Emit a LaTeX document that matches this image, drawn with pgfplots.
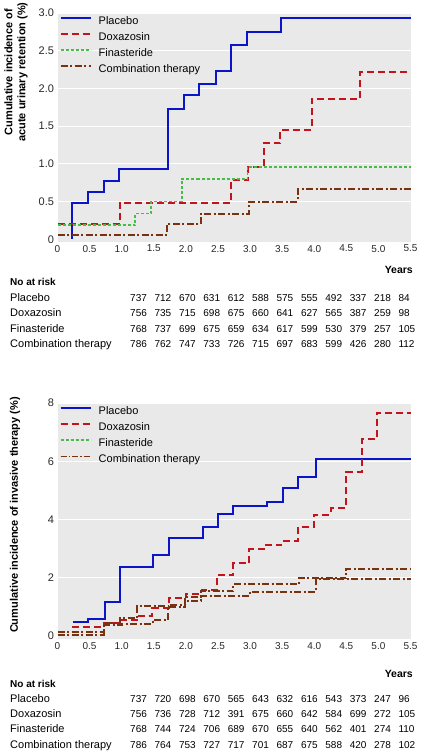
\documentclass[border=0pt]{standalone}
\usepackage{fontspec}
\setmainfont{Liberation Sans}
\usepackage{pgfplots}
\pgfplotsset{compat=1.18}
\definecolor{bg}{RGB}{233,233,233}
\definecolor{cplac}{RGB}{10,20,200}
\definecolor{cdox}{RGB}{195,20,30}
\definecolor{cfin}{RGB}{70,190,70}
\definecolor{ccomb}{RGB}{120,50,15}
\definecolor{ticktext}{RGB}{40,40,40}
\pgfplotsset{
 kmaxis/.style={
  scale only axis, width=353pt, xmin=0, xmax=5.5,
  axis line style={draw=none}, major tick length=0pt,
  axis background/.style={fill=bg},
  ymajorgrids, grid style={white, line width=1pt},
  xtick={0,0.5,1,1.5,2,2.5,3,3.5,4,4.5,5,5.5},
  xticklabels={0,0.5,1.0,1.5,2.0,2.5,3.0,3.5,4.0,4.5,5.0,5.5},
  x tick label style={font=\fontsize{10}{12}\selectfont, text=ticktext},
  y tick label style={font=\fontsize{11}{13}\selectfont, text=ticktext},
  /pgf/number format/assume math mode=true,
  legend style={at={(0,1)}, anchor=north west, draw=none, fill=none,
    font=\fontsize{11}{13}\selectfont, inner xsep=2pt, inner ysep=3pt, row sep=5pt,
    nodes={inner sep=0pt, text height=8pt, text depth=3pt}},
  legend cell align=left,
  legend image code/.code={\draw[##1] (0pt,3.5pt) -- (30pt,3.5pt); \path (37pt,3.5pt);},
  clip=false,
 },
 kmPlac/.style={color=cplac, line width=2pt, solid},
 kmDox/.style={color=cdox, line width=2pt, dash pattern=on 7pt off 4pt},
 kmFin/.style={color=cfin, line width=1.7pt, dash pattern=on 3pt off 2pt},
 kmComb/.style={color=ccomb, line width=2pt, dash pattern=on 7pt off 2.5pt on 2pt off 2.5pt},
 kmCombThin/.style={color=ccomb, line width=1pt, dash pattern=on 6pt off 2pt on 1.5pt off 2pt},
}
\newcommand\riskrow[3]{%
 \node[anchor=base west, inner sep=0pt, font=\fontsize{11}{13}\selectfont] at (10pt,-#2pt) {#1};
 \foreach \v [count=\i from 0] in {#3} {\node[anchor=base west, inner sep=0pt, font=\fontsize{10}{12}\selectfont] at ({(130+24.4*\i)*1pt},-#2pt) {\v};}
}
\begin{document}
\begin{tikzpicture}
\useasboundingbox (0,0) rectangle (424pt,-756pt);
% ---------------- top panel
\begin{axis}[kmaxis, at={(57.5pt,-241.5pt)}, anchor=south west, height=228.5pt,
  ymin=-0.03, ymax=3.0, ytick={0.5,1,1.5,2,2.5,3}, yticklabels={0.5,1.0,1.5,2.0,2.5,3.0},
  extra y ticks={0}, extra y tick labels={0}, extra y tick style={grid=none}]
\addlegendimage{kmPlac}\addlegendentry{Placebo}
\addlegendimage{kmDox}\addlegendentry{Doxazosin}
\addlegendimage{kmFin}\addlegendentry{Finasteride}
\addlegendimage{kmComb}\addlegendentry{Combination therapy}
\addplot[kmPlac, const plot, forget plot] coordinates {(0.22,0) (0.22,0.48) (0.47,0.63) (0.72,0.77) (0.96,0.93) (1.72,1.73) (1.97,1.91) (2.21,2.06) (2.47,2.23) (2.70,2.58) (2.96,2.75) (3.48,2.93) (5.5,2.93)};
\addplot[kmDox, const plot, forget plot] coordinates {(0,0.20) (0.97,0.48) (2.71,0.79) (2.97,0.96) (3.21,1.27) (3.47,1.45) (3.96,1.86) (4.72,2.22) (5.5,2.22)};
\addplot[kmFin, const plot, forget plot] coordinates {(0,0.19) (1.21,0.34) (1.46,0.50) (1.94,0.80) (2.96,0.96) (5.5,0.96)};
\addplot[kmComb, const plot, forget plot] coordinates {(0,0.06) (1.71,0.20) (2.23,0.34) (2.99,0.50) (3.74,0.66) (5.5,0.66)};
\end{axis}
\node[rotate=90, align=center, font=\fontsize{11}{13}\selectfont\bfseries] at (16pt,-72pt) {Cumulative incidence of\\acute urinary retention (\%)};
\node[anchor=base east, inner sep=0pt, font=\fontsize{10.5}{12}\selectfont\bfseries] at (413pt,-273pt) {Years};
\node[anchor=base west, inner sep=0pt, font=\fontsize{10}{12}\selectfont\bfseries] at (10pt,-285.5pt) {No at risk};
\riskrow{Placebo}{301}{737,712,670,631,612,588,575,555,492,337,218,84}
\riskrow{Doxazosin}{316.5}{756,735,715,698,675,660,641,627,565,387,259,98}
\riskrow{Finasteride}{332}{768,737,699,675,659,634,617,599,530,379,257,105}
\riskrow{Combination therapy}{347.5}{786,762,747,733,726,715,697,683,599,426,280,112}
% ---------------- bottom panel
\begin{axis}[kmaxis, at={(57.5pt,-639pt)}, anchor=south west, height=236pt,
  ymin=-0.1, ymax=8, ytick={2,4,6,8},
  extra y ticks={0}, extra y tick labels={0}, extra y tick style={grid=none}]
\addlegendimage{kmPlac}\addlegendentry{Placebo}
\addlegendimage{kmDox}\addlegendentry{Doxazosin}
\addlegendimage{kmFin}\addlegendentry{Finasteride}
\addlegendimage{kmCombThin}\addlegendentry{Combination therapy}
\addplot[kmPlac, const plot, forget plot] coordinates {(0.24,0.49) (0.47,0.57) (0.74,1.17) (0.98,2.37) (1.49,2.80) (1.74,3.37) (2.26,3.73) (2.50,4.18) (2.74,4.45) (3.26,4.60) (3.51,5.10) (3.75,5.45) (4.02,6.08) (5.5,6.08)};
\addplot[kmDox, const plot, forget plot] coordinates {(0.22,0.32) (0.72,0.45) (0.96,0.55) (1.24,0.70) (1.48,0.95) (1.74,1.30) (2.00,1.46) (2.25,1.57) (2.49,2.08) (2.74,2.52) (2.99,2.98) (3.25,3.12) (3.49,3.26) (3.75,3.74) (4.00,4.17) (4.26,4.40) (4.50,5.64) (4.74,6.76) (4.98,7.67) (5.5,7.67)};
\addplot[kmComb, const plot, forget plot] coordinates {(0,0.15) (0.73,0.45) (0.97,0.62) (1.24,1.02) (1.74,1.08) (1.98,1.34) (2.24,1.55) (2.74,1.78) (3.76,2.00) (4.50,2.32) (5.5,2.32)};
\addplot[kmComb, const plot, forget plot] coordinates {(0,0.03) (0.73,0.38) (1.00,0.42) (1.49,0.55) (1.72,1.00) (1.98,1.20) (2.24,1.38) (3.00,1.52) (4.02,1.96) (5.5,1.96)};
\end{axis}
\node[rotate=90, font=\fontsize{11}{13}\selectfont\bfseries] at (15pt,-515pt) {Cumulative incidence of invasive therapy (\%)};
\node[anchor=base east, inner sep=0pt, font=\fontsize{10.5}{12}\selectfont\bfseries] at (413pt,-677pt) {Years};
\node[anchor=base west, inner sep=0pt, font=\fontsize{10}{12}\selectfont\bfseries] at (10pt,-687pt) {No at risk};
\riskrow{Placebo}{702}{737,720,698,670,565,643,632,616,543,373,247,96}
\riskrow{Doxazosin}{717}{756,736,728,712,391,675,660,642,584,699,272,105}
\riskrow{Finasteride}{732.5}{768,744,724,706,689,670,655,640,562,401,274,110}
\riskrow{Combination therapy}{748}{786,764,753,727,717,701,687,675,588,420,278,102}
\end{tikzpicture}
\end{document}
